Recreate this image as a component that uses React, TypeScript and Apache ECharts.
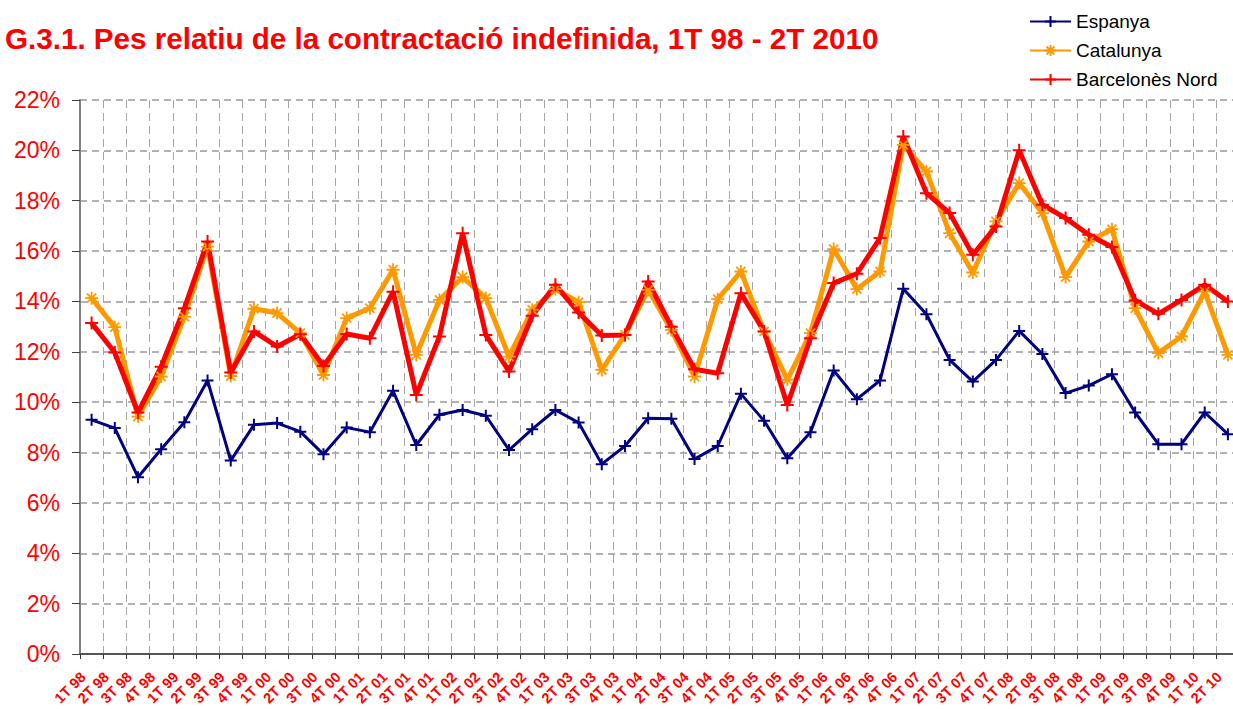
import React, { useEffect, useRef } from "react";
import * as echarts from "echarts";

const categories = [
  "1T 98", "2T 98", "3T 98", "4T 98",
  "1T 99", "2T 99", "3T 99", "4T 99",
  "1T 00", "2T 00", "3T 00", "4T 00",
  "1T 01", "2T 01", "3T 01", "4T 01",
  "1T 02", "2T 02", "3T 02", "4T 02",
  "1T 03", "2T 03", "3T 03", "4T 03",
  "1T 04", "2T 04", "3T 04", "4T 04",
  "1T 05", "2T 05", "3T 05", "4T 05",
  "1T 06", "2T 06", "3T 06", "4T 06",
  "1T 07", "2T 07", "3T 07", "4T 07",
  "1T 08", "2T 08", "3T 08", "4T 08",
  "1T 09", "2T 09", "3T 09", "4T 09",
  "1T 10", "2T 10",
];

const espanya = [
  9.30, 8.97, 7.02, 8.13, 9.20, 10.86, 7.68, 9.10, 9.17, 8.83, 7.93, 8.99,
  8.81, 10.45, 8.30, 9.50, 9.69, 9.46, 8.10, 8.93, 9.69, 9.19, 7.54, 8.26,
  9.36, 9.34, 7.74, 8.26, 10.33, 9.26, 7.77, 8.81, 11.26, 10.12, 10.86, 14.50,
  13.49, 11.68, 10.82, 11.68, 12.83, 11.91, 10.36, 10.66, 11.11, 9.59, 8.33, 8.33,
  9.59, 8.73,
];

const catalunya = [
  14.13, 12.98, 9.43, 11.02, 13.40, 16.18, 11.04, 13.71, 13.54, 12.74, 11.08, 13.34,
  13.73, 15.26, 11.88, 14.06, 14.97, 14.13, 11.81, 13.67, 14.49, 13.97, 11.28, 12.67,
  14.46, 12.87, 11.02, 14.09, 15.19, 12.81, 10.89, 12.74, 16.08, 14.49, 15.19, 20.22,
  19.16, 16.71, 15.15, 17.18, 18.70, 17.51, 14.97, 16.38, 16.87, 13.73, 11.95, 12.61,
  14.39, 11.88,
];

const barcelonesNord = [
  13.14, 11.97, 9.59, 11.41, 13.73, 16.38, 11.18, 12.81, 12.21, 12.70, 11.44, 12.71,
  12.54, 14.39, 10.29, 12.61, 16.71, 12.67, 11.22, 13.43, 14.66, 13.56, 12.65, 12.67,
  14.79, 13.00, 11.31, 11.15, 14.33, 12.81, 9.89, 12.54, 14.73, 15.10, 16.52, 20.55,
  18.30, 17.51, 15.85, 16.98, 20.00, 17.84, 17.31, 16.65, 16.16, 14.04, 13.51, 14.06,
  14.66, 14.00,
];

const seriesNames = ["Espanya", "Catalunya", "Barcelonès Nord"];
const titleText = "G.3.1. Pes relatiu de la contractació indefinida, 1T 98 - 2T 2010";

const FONT = "'Liberation Sans', Arial, sans-serif";
const PLUS = "path://M0,6L12,6M6,0L6,12";
const STAR = "path://M0,6L12,6M6,0L6,12M1.8,1.8L10.2,10.2M1.8,10.2L10.2,1.8";

export default function App() {
  const ref = useRef<HTMLDivElement>(null);

  useEffect(() => {
    if (!ref.current) return;
    const chart = echarts.init(ref.current, null, { renderer: "svg" });

    const mk = (name: string, data: number[], color: string, width: number, symbol: string, symSize: number, bw: number) => ({
      name,
      type: "line",
      data,
      symbol,
      symbolSize: symSize,
      showAllSymbol: true,
      lineStyle: { color, width },
      itemStyle: { color, borderColor: color, borderWidth: bw },
      emphasis: { disabled: true },
    });

    chart.setOption({
      animation: false,
      backgroundColor: "#ffffff",
      title: {
        text: titleText,
        left: 5,
        top: 23,
        padding: 0,
        textStyle: { color: "#FF0000", fontSize: 29.6, fontWeight: "bold", fontFamily: FONT },
      },
      legend: {
        left: 1029,
        top: 12,
        orient: "vertical",
        padding: 0,
        itemWidth: 41,
        itemHeight: 14,
        itemGap: 10,
        data: seriesNames,
        textStyle: { color: "#000000", fontSize: 19, fontFamily: FONT },
      },
      grid: {
        left: 80,
        top: 100,
        width: 1159.5,
        bottom: 55,
        containLabel: false,
        outerBoundsMode: "none",
      },
      xAxis: {
        type: "category",
        data: categories,
        boundaryGap: true,
        axisLine: { lineStyle: { color: "#555555", width: 2 } },
        axisTick: { show: true, length: 5, lineStyle: { color: "#333333", width: 1 } },
        axisLabel: {
          interval: 0,
          rotate: 45,
          margin: 12,
          padding: [0, 12, 0, 0],
          color: "#FF0000",
          fontSize: 14.5,
          fontWeight: "bold",
          fontFamily: FONT,
        },
        splitLine: { show: true, interval: 0, lineStyle: { color: "#a6a6a6", width: 1, type: [8, 5] } },
      },
      yAxis: {
        type: "value",
        min: 0,
        max: 22,
        interval: 2,
        axisLine: { show: true, lineStyle: { color: "#808080", width: 2 } },
        axisTick: { show: true, length: 8, lineStyle: { color: "#404040", width: 1 } },
        axisLabel: {
          margin: 20,
          color: "#FF0000",
          fontSize: 23,
          fontFamily: FONT,
          formatter: "{value}%",
        },
        splitLine: { show: true, lineStyle: { color: "#999999", width: 1.5, type: [7, 5] } },
      },
      series: [
        mk(seriesNames[0], espanya, "#000080", 3, PLUS, 12, 2),
        mk(seriesNames[1], catalunya, "#FF9900", 5, STAR, 13, 1.8),
        mk(seriesNames[2], barcelonesNord, "#FF0000", 5, PLUS, 13, 2),
      ],
    });

    return () => chart.dispose();
  }, []);

  return (
    <div
      ref={ref}
      style={{ position: "absolute", left: 0, top: 0, width: 1233, height: 709, background: "#fff" }}
    />
  );
}
